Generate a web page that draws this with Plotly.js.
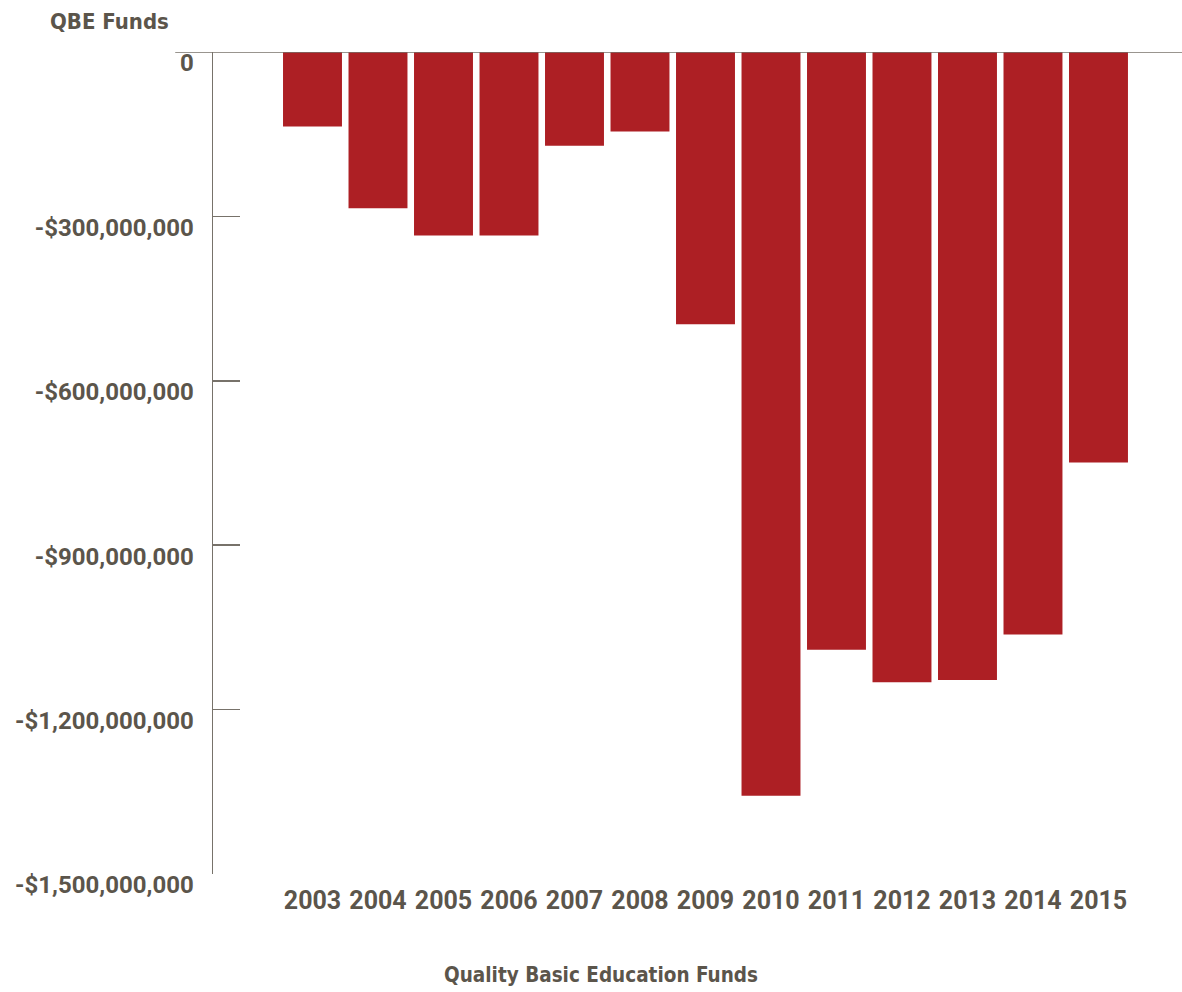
<!DOCTYPE html>
<html>
<head>
<meta charset="utf-8">
<script src="https://cdn.plot.ly/plotly-3.0.1.min.js"></script>
<style>
html,body{margin:0;padding:0;background:#fff;}
#chart{width:1182px;height:992px;}
</style>
</head>
<body>
<div id="chart"></div>
<script>
// Data
const years = ["2003","2004","2005","2006","2007","2008","2009","2010","2011","2012","2013","2014","2015"];
const qbeFunds = [-136e6,-285e6,-335e6,-335e6,-171e6,-145e6,-497e6,-1357e6,-1091e6,-1150e6,-1146e6,-1063e6,-749e6];
const yTickVals = [0,-300e6,-600e6,-900e6,-1200e6,-1500e6];
const yTickText = ["0","-$300,000,000","-$600,000,000","-$900,000,000","-$1,200,000,000","-$1,500,000,000"];
const chartTitle = "QBE Funds";
const xTitle = "Quality Basic Education Funds";

const textColor = "#5b554b";
const axisColor = "#77726a";
const narrow = "Liberation Sans Narrow, DejaVu Sans Condensed, Arial Narrow, sans-serif";

const trace = {
  type: "bar",
  x: years.map((y,i)=>i),
  y: qbeFunds,
  marker: {color: "#ad1f24", line: {width: 0}},
  hoverinfo: "skip"
};

const layout = {
  width: 1182, height: 992,
  margin: {l: 213, r: 0, t: 52, b: 118, pad: 0},
  paper_bgcolor: "#ffffff",
  plot_bgcolor: "#ffffff",
  showlegend: false,
  bargap: 0.1,
  xaxis: {
    range: [-1.519, 13.275],
    tickvals: years.map((y,i)=>i),
    ticktext: years,
    showgrid: false, zeroline: false, showline: false, ticks: "",
    tickfont: {family: "Roboto, Arial, sans-serif", size: 25, color: textColor, weight: 700},
    ticklabelstandoff: 9,
    fixedrange: true
  },
  yaxis: {
    range: [-1.5e9, 0],
    tickvals: yTickVals,
    ticktext: yTickText,
    showgrid: false, zeroline: false,
    showline: true, linecolor: axisColor, linewidth: 1.5,
    ticks: "inside", ticklen: 27, tickwidth: 1.5, tickcolor: axisColor,
    tickfont: {family: "Roboto, Arial, sans-serif", size: 24, color: textColor, weight: 700},
    ticklabelstandoff: 13,
    ticklabelshift: 11,
    fixedrange: true
  },
  shapes: [{
    type: "line", xref: "paper", yref: "y",
    x0: -0.039, x1: 1, y0: 0, y1: 0,
    line: {color: axisColor, width: 1.5},
    layer: "above"
  }],
  annotations: [
    {text: chartTitle, xref: "paper", yref: "paper", x: -0.1703, y: 1.0365,
     xanchor: "left", yanchor: "middle", showarrow: false,
     font: {family: narrow, size: 22, color: textColor, weight: 700}},
    {text: xTitle, xref: "paper", yref: "paper", x: 0.4004, y: -0.1229,
     xanchor: "center", yanchor: "middle", showarrow: false,
     font: {family: narrow, size: 20.5, color: textColor, weight: 700}}
  ]
};

Plotly.newPlot("chart", [trace], layout, {displayModeBar: false, staticPlot: true});
</script>
</body>
</html>
